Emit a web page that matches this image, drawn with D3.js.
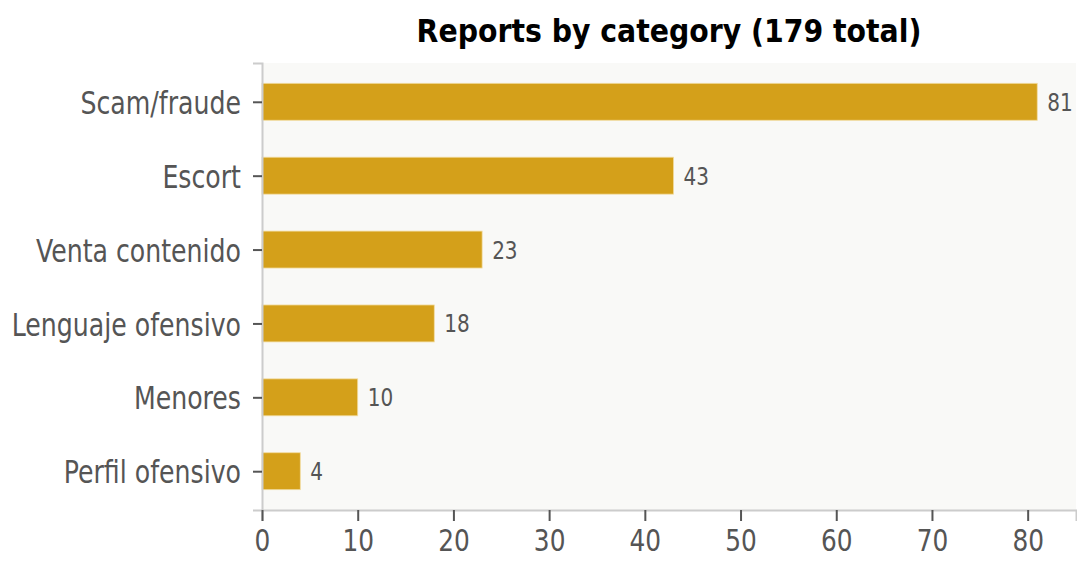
<!DOCTYPE html>
<html>
<head>
<meta charset="utf-8">
<script src="https://cdn.jsdelivr.net/npm/d3@7"></script>
<style>
	body { margin: 0; background: #ffffff; }
	text { font-family: "DejaVu Sans Condensed", "DejaVu Sans", sans-serif; }
</style>
</head>
<body>
<div id="chart"></div>
<script>
const categories = ["Scam/fraude", "Escort", "Venta contenido", "Lenguaje ofensivo", "Menores", "Perfil ofensivo"];
const counts = [81, 43, 23, 18, 10, 4];
const xTicks = [0, 10, 20, 30, 40, 50, 60, 70, 80];
const titleText = "Reports by category (179 total)";

function drawBars(location) {
	let width = 1077;
	let height = 561;
	let margin = {top: 63, right: 1, bottom: 51, left: 262};
	let squeeze = 0.89; // text in the picture is narrower than the condensed face

	let svg = d3.select(location)
		.append("svg")
		.attr("width", width)
		.attr("height", height);

	let x = d3.scaleLinear()
		.domain([0, 85.05])
		.range([margin.left, width - margin.right]);

	// band centres follow matplotlib's barh layout (index -0.525 .. 5.525)
	let y = d3.scaleLinear()
		.domain([-0.525, categories.length - 0.475])
		.range([margin.top, height - margin.bottom]);

	let barHalf = 0.25;

	// plot background
	svg.append("rect")
		.attr("x", margin.left)
		.attr("y", margin.top)
		.attr("width", width - margin.right - margin.left)
		.attr("height", height - margin.bottom - margin.top)
		.attr("fill", "#f9f9f7");

	// bars
	svg.selectAll("rect.bar")
		.data(counts)
		.enter()
		.append("rect")
		.attr("class", "bar")
		.attr("x", x(0))
		.attr("y", (d, i) => y(i - barHalf))
		.attr("width", d => x(d) - x(0))
		.attr("height", (d, i) => y(i + barHalf) - y(i - barHalf))
		.attr("fill", "#d4a01a")
		.attr("stroke", "#f2dca0")
		.attr("stroke-width", 0.8);

	// value labels
	svg.selectAll("text.val")
		.data(counts)
		.enter()
		.append("text")
		.attr("class", "val")
		.attr("transform", (d, i) => `translate(${x(d) + 10},${y(i)}) scale(${squeeze},1)`)
		.attr("dy", "0.36em")
		.attr("font-size", 25)
		.attr("fill", "#555555")
		.text(d => d);

	// y axis
	let yAxis = svg.append("g")
		.attr("transform", `translate(${margin.left},0)`)
		.call(d3.axisLeft(y)
			.tickValues(d3.range(categories.length))
			.tickFormat(i => categories[i])
			.tickSize(9)
			.tickPadding(11));
	yAxis.select(".domain").attr("stroke", "#cccccc").attr("stroke-width", 2);
	yAxis.selectAll(".tick line").attr("stroke", "#555555").attr("stroke-width", 2);
	yAxis.selectAll(".tick text")
		.attr("x", 0)
		.attr("dy", "0.37em")
		.attr("transform", `translate(-21,0) scale(${squeeze},1)`)
		.attr("font-size", 31.5)
		.attr("fill", "#555555");

	// x axis
	let xAxis = svg.append("g")
		.attr("transform", `translate(0,${height - margin.bottom})`)
		.call(d3.axisBottom(x)
			.tickValues(xTicks)
			.tickSize(11)
			.tickPadding(8));
	xAxis.select(".domain").attr("stroke", "#cccccc").attr("stroke-width", 2);
	xAxis.selectAll(".tick line").attr("stroke", "#555555").attr("stroke-width", 2);
	xAxis.selectAll(".tick text")
		.attr("y", 0)
		.attr("transform", `translate(0,19) scale(${squeeze},1)`)
		.attr("font-size", 31)
		.attr("fill", "#555555");

	// title
	svg.append("text")
		.attr("x", (margin.left + width - margin.right) / 2)
		.attr("y", 42)
		.attr("text-anchor", "middle")
		.attr("font-size", 31.5)
		.attr("font-weight", "bold")
		.attr("fill", "#000000")
		.text(titleText);
}

drawBars("#chart");
</script>
</body>
</html>
